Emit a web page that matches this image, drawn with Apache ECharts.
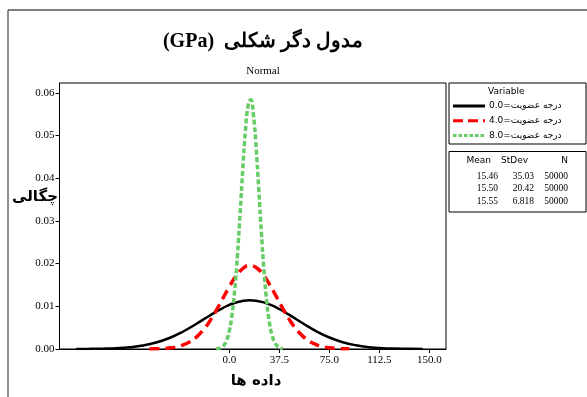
<!DOCTYPE html>
<html>
<head>
<meta charset="utf-8">
<script src="https://cdn.jsdelivr.net/npm/echarts@6/dist/echarts.min.js"></script>
<style>
  html, body { margin: 0; padding: 0; background: #fff; }
  #chart { width: 587px; height: 397px; }
</style>
</head>
<body>
<div id="chart"></div>
<script>
// values
const blackX = [-115, -105, -95, -85, -75, -65, -55, -45, -35, -25, -15, -5, 5, 15, 25, 35, 45, 55, 65, 75, 85, 95, 105, 115, 125, 135, 145];
const blackY = [0.00001, 0.00003, 0.00008, 0.00019, 0.00041, 0.00081, 0.00151, 0.00257, 0.00404, 0.00585, 0.0078, 0.0096, 0.01089, 0.01139, 0.01098, 0.00975, 0.00798, 0.00602, 0.00419, 0.00269, 0.00159, 0.00087, 0.00043, 0.0002, 0.00009, 0.00003, 0.00001];

const redX = [-60, -55, -50, -45, -40, -35, -30, -25, -20, -15, -10, -5, 0, 5, 10, 15, 20, 25, 30, 35, 40, 45, 50, 55, 60, 65, 70, 75, 80, 85, 90];
const redY = [0.00002, 0.00005, 0.00011, 0.00024, 0.00049, 0.00092, 0.00163, 0.00273, 0.00431, 0.0064, 0.00896, 0.0118, 0.01465, 0.01712, 0.01884, 0.01953, 0.01907, 0.01753, 0.01518, 0.01238, 0.00951, 0.00688, 0.00469, 0.00301, 0.00182, 0.00104, 0.00056, 0.00028, 0.00013, 0.00006, 0.00003];

const greenX = [-10, -8, -6, -4, -2, 0, 2, 4, 6, 8, 10, 12, 14, 16, 18, 20, 22, 24, 26, 28, 30, 32, 34, 36, 38, 40];
const greenY = [0.00005, 0.00015, 0.0004, 0.00096, 0.00213, 0.00434, 0.00812, 0.01393, 0.02194, 0.03169, 0.04201, 0.05109, 0.05702, 0.05838, 0.05486, 0.04729, 0.0374, 0.02714, 0.01807, 0.01105, 0.00619, 0.00319, 0.0015, 0.00065, 0.00026, 0.00009];

const xTicks = [0, 37.5, 75, 112.5, 150];
const yTicks = [0, 0.01, 0.02, 0.03, 0.04, 0.05, 0.06];

const legendNames = ["درجه عضویت=0.0", "درجه عضویت=4.0", "درجه عضویت=8.0"];
const statHeader = ["Mean", "StDev", "N"];
const statMean = ["15.46", "15.50", "15.55"];
const statStdev = ["35.03", "20.42", "6.818"];
const statN = ["50000", "50000", "50000"];

const zip = (xs, ys) => xs.map((x, i) => [x, ys[i]]);

const serif = "'Liberation Serif', 'DejaVu Serif', serif";
const sans = "'DejaVu Sans', 'Liberation Sans', sans-serif";

const chart = echarts.init(document.getElementById("chart"));

const lineStyles = [
  { color: "#000000", width: 2.5, type: "solid" },
  { color: "#ff0000", width: 3.5, type: [10, 6] },
  { color: "#66cc66", width: 3.5, type: [5, 2.5] },
];

// legend + stats boxes
const graphics = [
  { type: "line", shape: { x1: 8, y1: 10, x2: 587, y2: 10 }, style: { stroke: "#555", lineWidth: 1.5 } },
  { type: "line", shape: { x1: 8, y1: 10, x2: 8, y2: 397 }, style: { stroke: "#444", lineWidth: 1.2 } },
  { type: "rect", shape: { x: 449, y: 83, width: 137, height: 61 }, style: { fill: "none", stroke: "#000", lineWidth: 1 } },
  { type: "rect", shape: { x: 449, y: 151.5, width: 137, height: 60.5 }, style: { fill: "none", stroke: "#000", lineWidth: 1 } },
  { type: "text", left: 488, top: 87, style: { text: "Variable", font: "9px " + sans, fill: "#000" } },
];
legendNames.forEach((name, i) => {
  const y = 106 + i * 14.8;
  graphics.push({
    type: "line",
    shape: { x1: 453, y1: y, x2: 485, y2: y },
    style: { stroke: lineStyles[i].color, lineWidth: 3, lineDash: i === 0 ? null : (i === 1 ? [10, 5] : [3.5, 2]) },
  });
  graphics.push({
    type: "text", x: 489, y: y, style: { text: name, font: "9px " + sans, fill: "#000", verticalAlign: "middle" },
  });
});
const colRight = [491, 528, 568];
statHeader.forEach((h, j) => {
  graphics.push({ type: "text", x: colRight[j], y: 161, style: { text: h, font: "9px " + sans, fill: "#000", align: "right", verticalAlign: "middle" } });
});
[statMean, statStdev, statN].forEach((col, j) => {
  col.forEach((v, i) => {
    graphics.push({ type: "text", x: j === 1 ? 534 : (j === 0 ? 498 : 568), y: 176 + i * 12.5, style: { text: v, font: "9.5px " + serif, fill: "#000", align: "right", verticalAlign: "middle" } });
  });
});
// axis titles
graphics.push({ type: "text", x: 35, y: 197, style: { text: "چگالی", font: "bold 15px " + sans, fill: "#000", align: "center", verticalAlign: "middle" } });
graphics.push({ type: "text", x: 256, y: 381, style: { text: "داده ها", font: "bold 15px " + sans, fill: "#000", align: "center", verticalAlign: "middle" } });

const option = {
  backgroundColor: "#fff",
  animation: false,
  title: {
    text: "(GPa)  مدول دگر شکلی",
    subtext: "Normal",
    left: 258,
    textAlign: "center",
    top: 27,
    itemGap: 14,
    textStyle: { fontFamily: serif, fontWeight: "bold", fontSize: 20, color: "#000" },
    subtextStyle: { fontFamily: serif, fontSize: 11, color: "#000" },
  },
  grid: {
    left: 59.5,
    right: 141,
    top: 83,
    bottom: 48,
    show: true,
    borderColor: "#000",
    borderWidth: 1,
  },
  xAxis: {
    type: "value",
    min: -127.5,
    max: 162.5,
    splitLine: { show: false },
    axisLine: { show: true, onZero: false, lineStyle: { color: "#000" } },
    axisTick: { show: true, length: 4, customValues: xTicks, lineStyle: { color: "#000" } },
    axisLabel: {
      customValues: xTicks,
      color: "#000",
      fontFamily: serif,
      fontSize: 11,
      margin: 6,
      formatter: (v) => v.toFixed(1),
    },
  },
  yAxis: {
    type: "value",
    min: 0,
    max: 0.0623,
    splitLine: { show: false },
    axisLine: { show: true, onZero: false, lineStyle: { color: "#000" } },
    axisTick: { show: true, length: 4, customValues: yTicks, lineStyle: { color: "#000" } },
    axisLabel: {
      customValues: yTicks,
      color: "#000",
      fontFamily: serif,
      fontSize: 11,
      margin: 5,
      formatter: (v) => v.toFixed(2),
    },
  },
  series: [
    { name: legendNames[0], type: "line", smooth: true, symbol: "none", data: zip(blackX, blackY), lineStyle: lineStyles[0], z: 3 },
    { name: legendNames[1], type: "line", smooth: true, symbol: "none", data: zip(redX, redY), lineStyle: lineStyles[1], z: 4 },
    { name: legendNames[2], type: "line", smooth: true, symbol: "none", data: zip(greenX, greenY), lineStyle: lineStyles[2], z: 5 },
  ],
  graphic: graphics,
};

chart.setOption(option);
</script>
</body>
</html>
